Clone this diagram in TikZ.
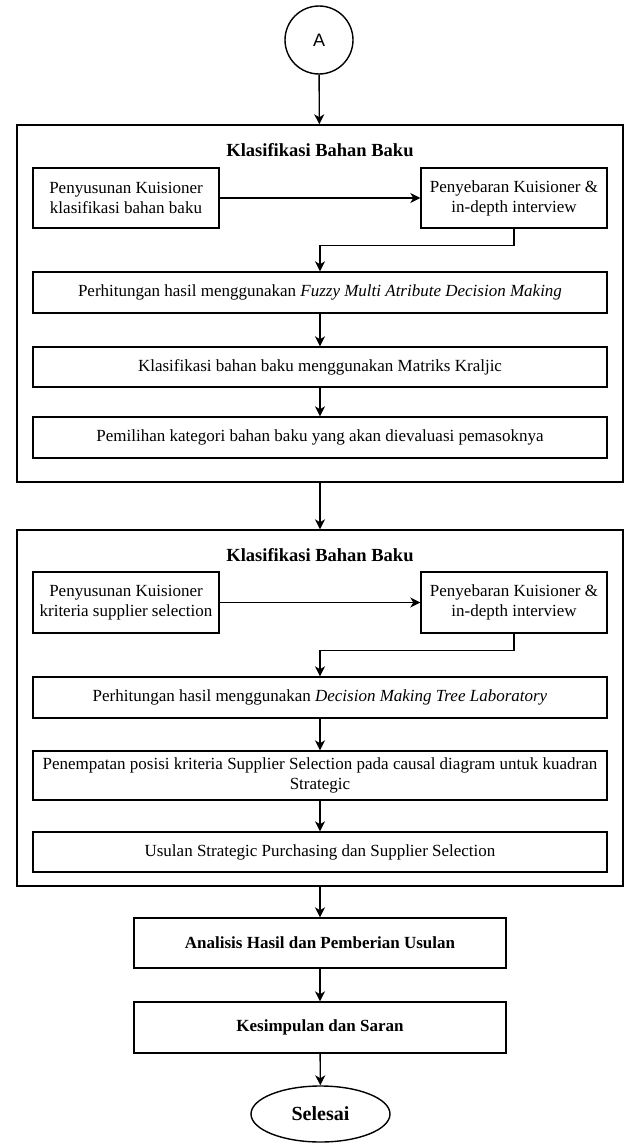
\documentclass[tikz,border=0pt]{standalone}
\usepackage{fontspec}
\setmainfont{Liberation Serif}
\newfontfamily\circfont{Liberation Sans}
\usetikzlibrary{arrows.meta,shapes.geometric}
\tikzset{
  box/.style={draw, line width=1.4pt, align=center, inner sep=2pt,
    font=\fontsize{17}{20}\selectfont},
  wide/.style={box, minimum width=574pt},
  group/.style={draw, line width=1.4pt, minimum width=606pt},
  title/.style={font=\fontsize{18.5}{22}\selectfont\bfseries},
  arr/.style={-{Stealth[length=10pt,width=10pt,inset=3pt]}, line width=1.4pt}
}
\begin{document}
\begin{tikzpicture}[x=1pt,y=-1pt]
      \useasboundingbox (0,0) rectangle (624,1143);
      \draw
        (319,40) node[circle, draw, line width=1.4pt, minimum size=68pt, font=\fontsize{18}{20}\selectfont\circfont] (a){A}
        (320,303.5) node[group, minimum height=357pt] (g1){}
        (320,150) node[title] (t1){Klasifikasi Bahan Baku}
        (126,198) node[box, minimum width=186pt, minimum height=60pt] (p1){Penyusunan Kuisioner\\klasifikasi bahan baku}
        (514,198) node[box, minimum width=186pt, minimum height=60pt] (p2){Penyebaran Kuisioner \&\\in-depth interview}
        (320,292.5) node[wide, minimum height=41pt] (r1){Perhitungan hasil menggunakan \textit{Fuzzy Multi Atribute Decision Making}}
        (320,367) node[wide, minimum height=40pt] (r2){Klasifikasi bahan baku menggunakan Matriks Kraljic}
        (320,437.5) node[wide, minimum height=41pt] (r3){Pemilihan kategori bahan baku yang akan dievaluasi pemasoknya}
        (320,708) node[group, minimum height=356pt] (g2){}
        (320,555) node[title] (t2){Klasifikasi Bahan Baku}
        (126,602.5) node[box, minimum width=186pt, minimum height=61pt] (p3){Penyusunan Kuisioner\\kriteria supplier selection}
        (514,602.5) node[box, minimum width=186pt, minimum height=61pt] (p4){Penyebaran Kuisioner \&\\in-depth interview}
        (320,697.5) node[wide, minimum height=41pt] (r4){Perhitungan hasil menggunakan \textit{Decision Making Tree Laboratory}}
        (320,775.5) node[wide, minimum height=49pt] (r5){Penempatan posisi kriteria Supplier Selection pada causal diagram untuk kuadran\\Strategic}
        (320,852) node[wide, minimum height=40pt] (r6){Usulan Strategic Purchasing dan Supplier Selection}
        (320,943) node[box, minimum width=372pt, minimum height=50pt, font=\fontsize{17}{20}\selectfont\bfseries] (h){Analisis Hasil dan Pemberian Usulan}
        (320,1027.5) node[box, minimum width=372pt, minimum height=51pt, font=\fontsize{17}{20}\selectfont\bfseries] (k){Kesimpulan dan Saran}
        (320.5,1114) node[ellipse, draw, line width=1.4pt, minimum width=139pt, minimum height=56pt, inner sep=0pt, font=\fontsize{20}{22}\selectfont\bfseries] (s){Selesai};
      \begin{scope}[arr]
        \draw (a) to (g1);
        \draw (p1) to (p2);
        \draw (p2.south) -- ++(0,17) -| (r1.north);
        \draw (r1) to (r2);
        \draw (r2) to (r3);
        \draw (g1) to (g2);
        \draw (p3) to (p4);
        \draw (p4.south) -- ++(0,17) -| (r4.north);
        \draw (r4) to (r5);
        \draw (r5) to (r6);
        \draw (g2) to (h);
        \draw (h) to (k);
        \draw (k) to (s);
      \end{scope}
    \end{tikzpicture}
\end{document}
